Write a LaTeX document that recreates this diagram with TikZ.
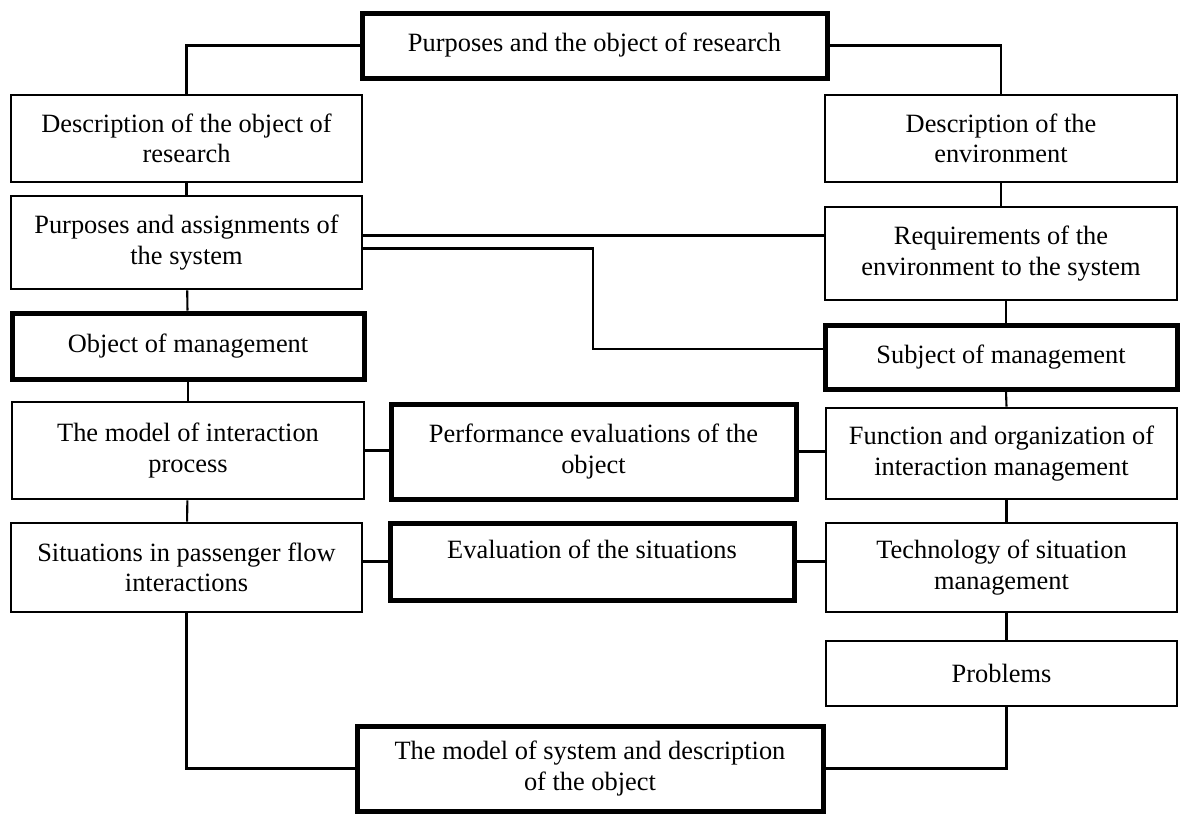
\documentclass[tikz,border=0pt]{standalone}
\usepackage{fontspec}
\setmainfont{Liberation Serif}
\usetikzlibrary{calc}
\tikzset{
  box/.style={draw, line width=1.3pt, align=center, inner sep=0pt,
    font=\fontsize{13.2pt}{15.3pt}\selectfont},
  thickbox/.style={box, line width=2.5pt},
  conn/.style={line width=1.05pt, line join=miter}
}
% \bx{name}{style}{x1}{y1}{x2}{y2}{text}
\newcommand{\bx}[7]{%
  \node[#2, minimum width={(#5-#3)*0.5pt}, minimum height={(#6-#4)*0.5pt}]
    (#1) at ({(#3+#5)/2},{(#4+#6)/2}) {#7};}
\begin{document}
\begin{tikzpicture}[x=0.5pt,y=-0.5pt]
\useasboundingbox (0,0) rectangle (1181,815);
% top
\bx{top}{thickbox}{362}{13}{827}{78}{Purposes and the object of research}
% left column
\bx{desc}{box}{11}{95}{362}{182}{Description of the object of\\research}
\bx{purp}{box}{11}{196}{362}{289}{Purposes and assignments of\\the system}
\bx{objm}{thickbox}{12}{313}{364}{379}{Object of management}
\bx{model}{box}{12}{402}{364}{499}{The model of interaction\\process}
\bx{sit}{box}{11}{523}{362}{612}{Situations in passenger flow\\interactions}
% middle
\bx{perf}{thickbox}{391}{404}{796}{499}{Performance evaluations of the\\object}
\bx{eval}{thickbox}{390}{523}{794}{600}{Evaluation of the situations\rule[-12pt]{0pt}{0pt}}
\bx{bot}{thickbox}{357}{726}{823}{811}{The model of system and description\\of the object}
% right column
\bx{env}{box}{825}{95}{1177}{182}{Description of the\\environment}
\bx{req}{box}{825}{207}{1177}{300}{Requirements of the\\environment to the system}
\bx{subj}{thickbox}{825}{325}{1177}{389}{Subject of management}
\bx{func}{box}{826}{408}{1177}{499}{Function and organization of\\interaction management}
\bx{tech}{box}{826}{523}{1177}{612}{Technology of situation\\management}
\bx{prob}{box}{826}{641}{1177}{706}{Problems}
% connectors
\draw[conn] (top.west) -| (desc.north);
\draw[conn] (top.east) -| (env.north);
\draw[conn] (desc) -- (purp);
\draw[conn] (purp) -- (objm);
\draw[conn] (objm) -- (model);
\draw[conn] (model) -- (sit);
\draw[conn] (sit.south) |- (bot.west);
\draw[conn] (env) -- (req);
\draw[conn] ($(req.south)+(5,0)$) -- ($(subj.north)+(5,0)$);
\draw[conn] ($(subj.south)+(5,0)$) -- ($(func.north)+(5,0)$);
\draw[conn] ($(func.south)+(5,0)$) -- ($(tech.north)+(5,0)$);
\draw[conn] ($(tech.south)+(5,0)$) -- ($(prob.north)+(5,0)$);
\coordinate (pc) at ($(prob.south)+(5,0)$);
\draw[conn] (pc) |- (bot.east);
\draw[conn] ($(purp.east)+(0,-7)$) -- (req.west |- {$(purp.east)+(0,-7)$});
\coordinate (bend) at (593,349);
\draw[conn] ($(purp.east)+(0,6)$) -| (bend) -- (subj.west |- bend);
\draw[conn] (model.east) -- (perf.west |- model.east);
\draw[conn] (perf.east) -- (func.west |- perf.east);
\draw[conn] (sit.east |- eval.west) -- (eval.west);
\draw[conn] (eval.east) -- (tech.west |- eval.east);
\end{tikzpicture}
\end{document}
